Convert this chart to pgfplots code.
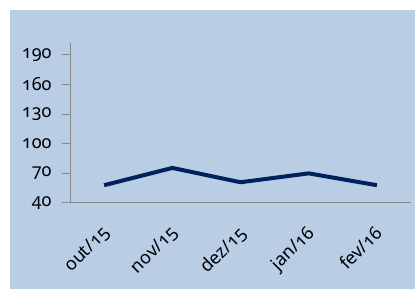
\documentclass[border=0pt]{standalone}
\usepackage{pgfplots}
\pgfplotsset{compat=1.18}
\usepackage{fontspec}
\setmainfont[Numbers=OldStyle]{Noto Sans}
\definecolor{bg}{RGB}{185,205,229}
\definecolor{navy}{RGB}{0,32,96}
\definecolor{axgray}{RGB}{134,134,134}
\begin{document}
\begin{tikzpicture}[x=1pt,y=1pt]
\fill[white] (0,0) rectangle (415,289);
\fill[bg] (10,0) rectangle (415,279);
\begin{axis}[
  at={(70pt,86pt)}, anchor=south west,
  scale only axis, width=341pt, height=160pt,
  axis lines*=left,
  axis line style={axgray, line width=1pt},
  xmin=-0.5, xmax=4.5, ymin=40, ymax=202,
  ytick={40,70,100,130,160,190},
  xtick={0,1,2,3,4},
  xticklabels={out/15,nov/15,dez/15,jan/16,fev/16},
  x tick style={draw=none},
  y tick style={axgray, line width=1pt},
  tick align=outside,
  major tick length=8pt,
  extra x ticks={-0.5,0.5,1.5,2.5,3.5,4.5},
  extra x tick labels={},
  extra x tick style={tick style={draw=axgray, line width=1pt}, major tick length=7pt},
  /pgf/number format/assume math mode=true,
  tick label style={font=\fontsize{18}{22}\selectfont, black},
  xticklabel style={xshift=-3pt, yshift=-12pt, rotate=45, anchor=north east, inner sep=1pt},
  yticklabel style={xshift=-7pt},
  clip=false,
]
\addplot[navy, line width=4pt, line join=round] coordinates {(0,58) (1,75.5) (2,61) (3,70) (4,58)};
\end{axis}
\end{tikzpicture}
\end{document}
